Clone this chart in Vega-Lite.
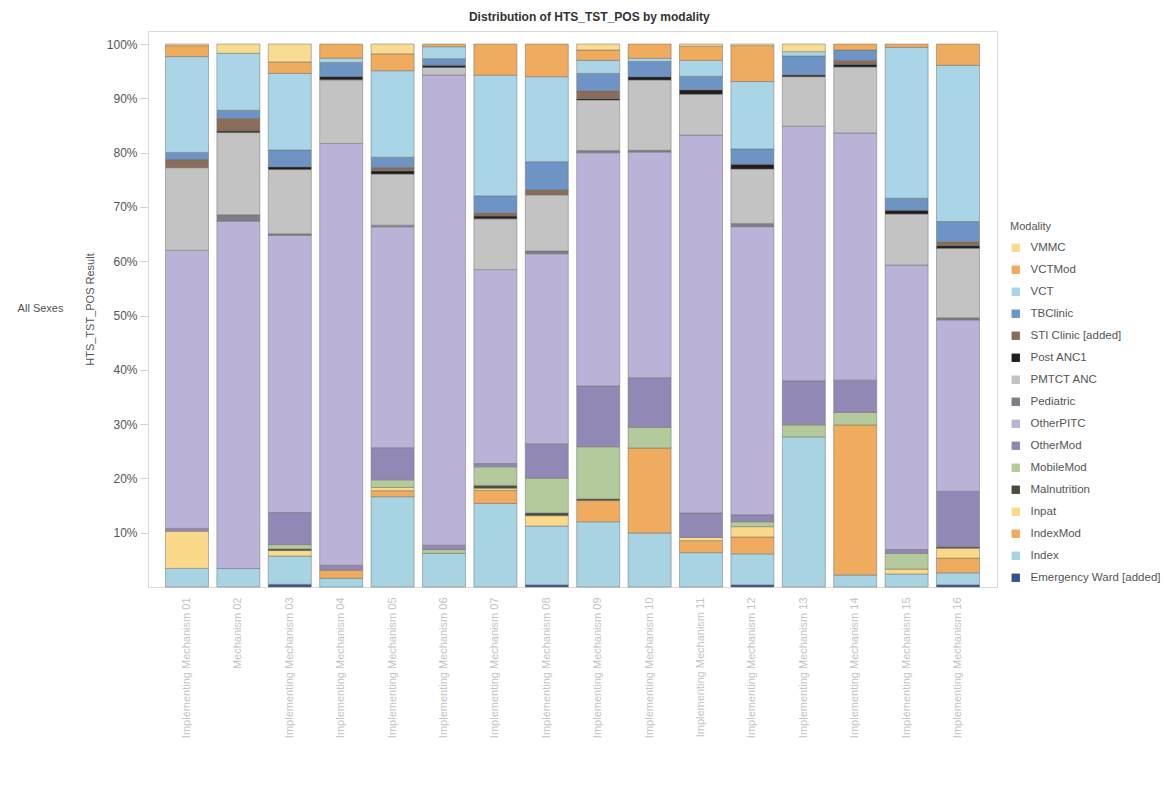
{
"$schema": "https://vega.github.io/schema/vega-lite/v6.json",
"padding": {"left": 17, "top": 10, "right": 5, "bottom": 5},
"background": "white",
"title": {"text": "Distribution of HTS_TST_POS by modality", "fontSize": 12, "fontWeight": "bold", "color": "#333333", "anchor": "middle", "frame": "bounds", "offset": 7},
"datasets": {"d": [
{"Sex":"All Sexes","Site":"Implementing Mechanism 01","Modality":"Index","Order":2,"Value":3.4},
{"Sex":"All Sexes","Site":"Implementing Mechanism 01","Modality":"Inpat","Order":4,"Value":6.8},
{"Sex":"All Sexes","Site":"Implementing Mechanism 01","Modality":"OtherMod","Order":7,"Value":0.5},
{"Sex":"All Sexes","Site":"Implementing Mechanism 01","Modality":"OtherPITC","Order":8,"Value":50.8},
{"Sex":"All Sexes","Site":"Implementing Mechanism 01","Modality":"PMTCT ANC","Order":10,"Value":15.1},
{"Sex":"All Sexes","Site":"Implementing Mechanism 01","Modality":"STI Clinic [added]","Order":12,"Value":1.5},
{"Sex":"All Sexes","Site":"Implementing Mechanism 01","Modality":"TBClinic","Order":13,"Value":1.3},
{"Sex":"All Sexes","Site":"Implementing Mechanism 01","Modality":"VCT","Order":14,"Value":17.5},
{"Sex":"All Sexes","Site":"Implementing Mechanism 01","Modality":"VCTMod","Order":15,"Value":2.0},
{"Sex":"All Sexes","Site":"Implementing Mechanism 01","Modality":"VMMC","Order":16,"Value":0.3},

{"Sex":"All Sexes","Site":"Mechanism 02","Modality":"Index","Order":2,"Value":3.4},
{"Sex":"All Sexes","Site":"Mechanism 02","Modality":"OtherPITC","Order":8,"Value":63.9},
{"Sex":"All Sexes","Site":"Mechanism 02","Modality":"Pediatric","Order":9,"Value":1.2},
{"Sex":"All Sexes","Site":"Mechanism 02","Modality":"PMTCT ANC","Order":10,"Value":15.1},
{"Sex":"All Sexes","Site":"Mechanism 02","Modality":"Post ANC1","Order":11,"Value":0.3},
{"Sex":"All Sexes","Site":"Mechanism 02","Modality":"STI Clinic [added]","Order":12,"Value":2.3},
{"Sex":"All Sexes","Site":"Mechanism 02","Modality":"TBClinic","Order":13,"Value":1.5},
{"Sex":"All Sexes","Site":"Mechanism 02","Modality":"VCT","Order":14,"Value":10.5},
{"Sex":"All Sexes","Site":"Mechanism 02","Modality":"VMMC","Order":16,"Value":1.7},

{"Sex":"All Sexes","Site":"Implementing Mechanism 03","Modality":"Emergency Ward [added]","Order":1,"Value":0.5},
{"Sex":"All Sexes","Site":"Implementing Mechanism 03","Modality":"Index","Order":2,"Value":5.2},
{"Sex":"All Sexes","Site":"Implementing Mechanism 03","Modality":"Inpat","Order":4,"Value":1.0},
{"Sex":"All Sexes","Site":"Implementing Mechanism 03","Modality":"Malnutrition","Order":5,"Value":0.3},
{"Sex":"All Sexes","Site":"Implementing Mechanism 03","Modality":"MobileMod","Order":6,"Value":0.8},
{"Sex":"All Sexes","Site":"Implementing Mechanism 03","Modality":"OtherMod","Order":7,"Value":5.9},
{"Sex":"All Sexes","Site":"Implementing Mechanism 03","Modality":"OtherPITC","Order":8,"Value":51.0},
{"Sex":"All Sexes","Site":"Implementing Mechanism 03","Modality":"Pediatric","Order":9,"Value":0.3},
{"Sex":"All Sexes","Site":"Implementing Mechanism 03","Modality":"PMTCT ANC","Order":10,"Value":11.8},
{"Sex":"All Sexes","Site":"Implementing Mechanism 03","Modality":"Post ANC1","Order":11,"Value":0.5},
{"Sex":"All Sexes","Site":"Implementing Mechanism 03","Modality":"TBClinic","Order":13,"Value":3.1},
{"Sex":"All Sexes","Site":"Implementing Mechanism 03","Modality":"VCT","Order":14,"Value":14.1},
{"Sex":"All Sexes","Site":"Implementing Mechanism 03","Modality":"VCTMod","Order":15,"Value":2.1},
{"Sex":"All Sexes","Site":"Implementing Mechanism 03","Modality":"VMMC","Order":16,"Value":3.3},

{"Sex":"All Sexes","Site":"Implementing Mechanism 04","Modality":"Index","Order":2,"Value":1.6},
{"Sex":"All Sexes","Site":"Implementing Mechanism 04","Modality":"IndexMod","Order":3,"Value":1.5},
{"Sex":"All Sexes","Site":"Implementing Mechanism 04","Modality":"OtherMod","Order":7,"Value":0.9},
{"Sex":"All Sexes","Site":"Implementing Mechanism 04","Modality":"OtherPITC","Order":8,"Value":77.7},
{"Sex":"All Sexes","Site":"Implementing Mechanism 04","Modality":"PMTCT ANC","Order":10,"Value":11.7},
{"Sex":"All Sexes","Site":"Implementing Mechanism 04","Modality":"Post ANC1","Order":11,"Value":0.6},
{"Sex":"All Sexes","Site":"Implementing Mechanism 04","Modality":"TBClinic","Order":13,"Value":2.6},
{"Sex":"All Sexes","Site":"Implementing Mechanism 04","Modality":"VCT","Order":14,"Value":0.8},
{"Sex":"All Sexes","Site":"Implementing Mechanism 04","Modality":"VCTMod","Order":15,"Value":2.6},

{"Sex":"All Sexes","Site":"Implementing Mechanism 05","Modality":"Index","Order":2,"Value":16.6},
{"Sex":"All Sexes","Site":"Implementing Mechanism 05","Modality":"IndexMod","Order":3,"Value":1.1},
{"Sex":"All Sexes","Site":"Implementing Mechanism 05","Modality":"Inpat","Order":4,"Value":0.6},
{"Sex":"All Sexes","Site":"Implementing Mechanism 05","Modality":"MobileMod","Order":6,"Value":1.4},
{"Sex":"All Sexes","Site":"Implementing Mechanism 05","Modality":"OtherMod","Order":7,"Value":5.9},
{"Sex":"All Sexes","Site":"Implementing Mechanism 05","Modality":"OtherPITC","Order":8,"Value":40.6},
{"Sex":"All Sexes","Site":"Implementing Mechanism 05","Modality":"Pediatric","Order":9,"Value":0.3},
{"Sex":"All Sexes","Site":"Implementing Mechanism 05","Modality":"PMTCT ANC","Order":10,"Value":9.4},
{"Sex":"All Sexes","Site":"Implementing Mechanism 05","Modality":"Post ANC1","Order":11,"Value":0.6},
{"Sex":"All Sexes","Site":"Implementing Mechanism 05","Modality":"STI Clinic [added]","Order":12,"Value":0.6},
{"Sex":"All Sexes","Site":"Implementing Mechanism 05","Modality":"TBClinic","Order":13,"Value":1.9},
{"Sex":"All Sexes","Site":"Implementing Mechanism 05","Modality":"VCT","Order":14,"Value":15.9},
{"Sex":"All Sexes","Site":"Implementing Mechanism 05","Modality":"VCTMod","Order":15,"Value":3.1},
{"Sex":"All Sexes","Site":"Implementing Mechanism 05","Modality":"VMMC","Order":16,"Value":1.8},

{"Sex":"All Sexes","Site":"Implementing Mechanism 06","Modality":"Index","Order":2,"Value":6.2},
{"Sex":"All Sexes","Site":"Implementing Mechanism 06","Modality":"MobileMod","Order":6,"Value":0.7},
{"Sex":"All Sexes","Site":"Implementing Mechanism 06","Modality":"OtherMod","Order":7,"Value":0.8},
{"Sex":"All Sexes","Site":"Implementing Mechanism 06","Modality":"OtherPITC","Order":8,"Value":86.6},
{"Sex":"All Sexes","Site":"Implementing Mechanism 06","Modality":"PMTCT ANC","Order":10,"Value":1.4},
{"Sex":"All Sexes","Site":"Implementing Mechanism 06","Modality":"Post ANC1","Order":11,"Value":0.4},
{"Sex":"All Sexes","Site":"Implementing Mechanism 06","Modality":"TBClinic","Order":13,"Value":1.2},
{"Sex":"All Sexes","Site":"Implementing Mechanism 06","Modality":"VCT","Order":14,"Value":2.2},
{"Sex":"All Sexes","Site":"Implementing Mechanism 06","Modality":"VCTMod","Order":15,"Value":0.5},

{"Sex":"All Sexes","Site":"Implementing Mechanism 07","Modality":"Index","Order":2,"Value":15.3},
{"Sex":"All Sexes","Site":"Implementing Mechanism 07","Modality":"IndexMod","Order":3,"Value":2.4},
{"Sex":"All Sexes","Site":"Implementing Mechanism 07","Modality":"Inpat","Order":4,"Value":0.4},
{"Sex":"All Sexes","Site":"Implementing Mechanism 07","Modality":"Malnutrition","Order":5,"Value":0.5},
{"Sex":"All Sexes","Site":"Implementing Mechanism 07","Modality":"MobileMod","Order":6,"Value":3.4},
{"Sex":"All Sexes","Site":"Implementing Mechanism 07","Modality":"OtherMod","Order":7,"Value":0.6},
{"Sex":"All Sexes","Site":"Implementing Mechanism 07","Modality":"OtherPITC","Order":8,"Value":35.5},
{"Sex":"All Sexes","Site":"Implementing Mechanism 07","Modality":"PMTCT ANC","Order":10,"Value":9.3},
{"Sex":"All Sexes","Site":"Implementing Mechanism 07","Modality":"Post ANC1","Order":11,"Value":0.5},
{"Sex":"All Sexes","Site":"Implementing Mechanism 07","Modality":"STI Clinic [added]","Order":12,"Value":0.6},
{"Sex":"All Sexes","Site":"Implementing Mechanism 07","Modality":"TBClinic","Order":13,"Value":3.1},
{"Sex":"All Sexes","Site":"Implementing Mechanism 07","Modality":"VCT","Order":14,"Value":22.1},
{"Sex":"All Sexes","Site":"Implementing Mechanism 07","Modality":"VCTMod","Order":15,"Value":5.7},

{"Sex":"All Sexes","Site":"Implementing Mechanism 08","Modality":"Emergency Ward [added]","Order":1,"Value":0.4},
{"Sex":"All Sexes","Site":"Implementing Mechanism 08","Modality":"Index","Order":2,"Value":10.8},
{"Sex":"All Sexes","Site":"Implementing Mechanism 08","Modality":"Inpat","Order":4,"Value":1.9},
{"Sex":"All Sexes","Site":"Implementing Mechanism 08","Modality":"Malnutrition","Order":5,"Value":0.5},
{"Sex":"All Sexes","Site":"Implementing Mechanism 08","Modality":"MobileMod","Order":6,"Value":6.4},
{"Sex":"All Sexes","Site":"Implementing Mechanism 08","Modality":"OtherMod","Order":7,"Value":6.3},
{"Sex":"All Sexes","Site":"Implementing Mechanism 08","Modality":"OtherPITC","Order":8,"Value":34.9},
{"Sex":"All Sexes","Site":"Implementing Mechanism 08","Modality":"Pediatric","Order":9,"Value":0.5},
{"Sex":"All Sexes","Site":"Implementing Mechanism 08","Modality":"PMTCT ANC","Order":10,"Value":10.3},
{"Sex":"All Sexes","Site":"Implementing Mechanism 08","Modality":"STI Clinic [added]","Order":12,"Value":0.9},
{"Sex":"All Sexes","Site":"Implementing Mechanism 08","Modality":"TBClinic","Order":13,"Value":5.2},
{"Sex":"All Sexes","Site":"Implementing Mechanism 08","Modality":"VCT","Order":14,"Value":15.6},
{"Sex":"All Sexes","Site":"Implementing Mechanism 08","Modality":"VCTMod","Order":15,"Value":6.0},

{"Sex":"All Sexes","Site":"Implementing Mechanism 09","Modality":"Index","Order":2,"Value":12.0},
{"Sex":"All Sexes","Site":"Implementing Mechanism 09","Modality":"IndexMod","Order":3,"Value":3.9},
{"Sex":"All Sexes","Site":"Implementing Mechanism 09","Modality":"Malnutrition","Order":5,"Value":0.3},
{"Sex":"All Sexes","Site":"Implementing Mechanism 09","Modality":"MobileMod","Order":6,"Value":9.6},
{"Sex":"All Sexes","Site":"Implementing Mechanism 09","Modality":"OtherMod","Order":7,"Value":11.2},
{"Sex":"All Sexes","Site":"Implementing Mechanism 09","Modality":"OtherPITC","Order":8,"Value":42.9},
{"Sex":"All Sexes","Site":"Implementing Mechanism 09","Modality":"Pediatric","Order":9,"Value":0.4},
{"Sex":"All Sexes","Site":"Implementing Mechanism 09","Modality":"PMTCT ANC","Order":10,"Value":9.3},
{"Sex":"All Sexes","Site":"Implementing Mechanism 09","Modality":"Post ANC1","Order":11,"Value":0.3},
{"Sex":"All Sexes","Site":"Implementing Mechanism 09","Modality":"STI Clinic [added]","Order":12,"Value":1.4},
{"Sex":"All Sexes","Site":"Implementing Mechanism 09","Modality":"TBClinic","Order":13,"Value":3.2},
{"Sex":"All Sexes","Site":"Implementing Mechanism 09","Modality":"VCT","Order":14,"Value":2.4},
{"Sex":"All Sexes","Site":"Implementing Mechanism 09","Modality":"VCTMod","Order":15,"Value":1.9},
{"Sex":"All Sexes","Site":"Implementing Mechanism 09","Modality":"VMMC","Order":16,"Value":1.1},

{"Sex":"All Sexes","Site":"Implementing Mechanism 10","Modality":"Index","Order":2,"Value":9.9},
{"Sex":"All Sexes","Site":"Implementing Mechanism 10","Modality":"IndexMod","Order":3,"Value":15.6},
{"Sex":"All Sexes","Site":"Implementing Mechanism 10","Modality":"MobileMod","Order":6,"Value":3.8},
{"Sex":"All Sexes","Site":"Implementing Mechanism 10","Modality":"OtherMod","Order":7,"Value":9.1},
{"Sex":"All Sexes","Site":"Implementing Mechanism 10","Modality":"OtherPITC","Order":8,"Value":41.4},
{"Sex":"All Sexes","Site":"Implementing Mechanism 10","Modality":"Pediatric","Order":9,"Value":0.3},
{"Sex":"All Sexes","Site":"Implementing Mechanism 10","Modality":"PMTCT ANC","Order":10,"Value":12.9},
{"Sex":"All Sexes","Site":"Implementing Mechanism 10","Modality":"Post ANC1","Order":11,"Value":0.6},
{"Sex":"All Sexes","Site":"Implementing Mechanism 10","Modality":"TBClinic","Order":13,"Value":2.8},
{"Sex":"All Sexes","Site":"Implementing Mechanism 10","Modality":"VCT","Order":14,"Value":0.6},
{"Sex":"All Sexes","Site":"Implementing Mechanism 10","Modality":"VCTMod","Order":15,"Value":2.6},

{"Sex":"All Sexes","Site":"Implementing Mechanism 11","Modality":"Index","Order":2,"Value":6.3},
{"Sex":"All Sexes","Site":"Implementing Mechanism 11","Modality":"IndexMod","Order":3,"Value":2.2},
{"Sex":"All Sexes","Site":"Implementing Mechanism 11","Modality":"Inpat","Order":4,"Value":0.6},
{"Sex":"All Sexes","Site":"Implementing Mechanism 11","Modality":"OtherMod","Order":7,"Value":4.5},
{"Sex":"All Sexes","Site":"Implementing Mechanism 11","Modality":"OtherPITC","Order":8,"Value":69.3},
{"Sex":"All Sexes","Site":"Implementing Mechanism 11","Modality":"PMTCT ANC","Order":10,"Value":7.5},
{"Sex":"All Sexes","Site":"Implementing Mechanism 11","Modality":"Post ANC1","Order":11,"Value":0.8},
{"Sex":"All Sexes","Site":"Implementing Mechanism 11","Modality":"TBClinic","Order":13,"Value":2.5},
{"Sex":"All Sexes","Site":"Implementing Mechanism 11","Modality":"VCT","Order":14,"Value":2.9},
{"Sex":"All Sexes","Site":"Implementing Mechanism 11","Modality":"VCTMod","Order":15,"Value":2.6},
{"Sex":"All Sexes","Site":"Implementing Mechanism 11","Modality":"VMMC","Order":16,"Value":0.4},

{"Sex":"All Sexes","Site":"Implementing Mechanism 12","Modality":"Emergency Ward [added]","Order":1,"Value":0.4},
{"Sex":"All Sexes","Site":"Implementing Mechanism 12","Modality":"Index","Order":2,"Value":5.7},
{"Sex":"All Sexes","Site":"Implementing Mechanism 12","Modality":"IndexMod","Order":3,"Value":3.1},
{"Sex":"All Sexes","Site":"Implementing Mechanism 12","Modality":"Inpat","Order":4,"Value":1.9},
{"Sex":"All Sexes","Site":"Implementing Mechanism 12","Modality":"MobileMod","Order":6,"Value":0.9},
{"Sex":"All Sexes","Site":"Implementing Mechanism 12","Modality":"OtherMod","Order":7,"Value":1.3},
{"Sex":"All Sexes","Site":"Implementing Mechanism 12","Modality":"OtherPITC","Order":8,"Value":53.0},
{"Sex":"All Sexes","Site":"Implementing Mechanism 12","Modality":"Pediatric","Order":9,"Value":0.6},
{"Sex":"All Sexes","Site":"Implementing Mechanism 12","Modality":"PMTCT ANC","Order":10,"Value":10.0},
{"Sex":"All Sexes","Site":"Implementing Mechanism 12","Modality":"Post ANC1","Order":11,"Value":0.9},
{"Sex":"All Sexes","Site":"Implementing Mechanism 12","Modality":"TBClinic","Order":13,"Value":2.8},
{"Sex":"All Sexes","Site":"Implementing Mechanism 12","Modality":"VCT","Order":14,"Value":12.4},
{"Sex":"All Sexes","Site":"Implementing Mechanism 12","Modality":"VCTMod","Order":15,"Value":6.6},
{"Sex":"All Sexes","Site":"Implementing Mechanism 12","Modality":"VMMC","Order":16,"Value":0.3},

{"Sex":"All Sexes","Site":"Implementing Mechanism 13","Modality":"Index","Order":2,"Value":27.6},
{"Sex":"All Sexes","Site":"Implementing Mechanism 13","Modality":"MobileMod","Order":6,"Value":2.2},
{"Sex":"All Sexes","Site":"Implementing Mechanism 13","Modality":"OtherMod","Order":7,"Value":8.1},
{"Sex":"All Sexes","Site":"Implementing Mechanism 13","Modality":"OtherPITC","Order":8,"Value":46.8},
{"Sex":"All Sexes","Site":"Implementing Mechanism 13","Modality":"PMTCT ANC","Order":10,"Value":9.1},
{"Sex":"All Sexes","Site":"Implementing Mechanism 13","Modality":"Post ANC1","Order":11,"Value":0.3},
{"Sex":"All Sexes","Site":"Implementing Mechanism 13","Modality":"TBClinic","Order":13,"Value":3.5},
{"Sex":"All Sexes","Site":"Implementing Mechanism 13","Modality":"VCT","Order":14,"Value":0.8},
{"Sex":"All Sexes","Site":"Implementing Mechanism 13","Modality":"VMMC","Order":16,"Value":1.4},

{"Sex":"All Sexes","Site":"Implementing Mechanism 14","Modality":"Index","Order":2,"Value":2.2},
{"Sex":"All Sexes","Site":"Implementing Mechanism 14","Modality":"IndexMod","Order":3,"Value":27.5},
{"Sex":"All Sexes","Site":"Implementing Mechanism 14","Modality":"MobileMod","Order":6,"Value":2.3},
{"Sex":"All Sexes","Site":"Implementing Mechanism 14","Modality":"OtherMod","Order":7,"Value":5.9},
{"Sex":"All Sexes","Site":"Implementing Mechanism 14","Modality":"OtherPITC","Order":8,"Value":45.3},
{"Sex":"All Sexes","Site":"Implementing Mechanism 14","Modality":"PMTCT ANC","Order":10,"Value":12.1},
{"Sex":"All Sexes","Site":"Implementing Mechanism 14","Modality":"Post ANC1","Order":11,"Value":0.5},
{"Sex":"All Sexes","Site":"Implementing Mechanism 14","Modality":"STI Clinic [added]","Order":12,"Value":0.7},
{"Sex":"All Sexes","Site":"Implementing Mechanism 14","Modality":"TBClinic","Order":13,"Value":1.9},
{"Sex":"All Sexes","Site":"Implementing Mechanism 14","Modality":"VCTMod","Order":15,"Value":1.1},

{"Sex":"All Sexes","Site":"Implementing Mechanism 15","Modality":"Index","Order":2,"Value":2.4},
{"Sex":"All Sexes","Site":"Implementing Mechanism 15","Modality":"Inpat","Order":4,"Value":0.9},
{"Sex":"All Sexes","Site":"Implementing Mechanism 15","Modality":"MobileMod","Order":6,"Value":2.9},
{"Sex":"All Sexes","Site":"Implementing Mechanism 15","Modality":"OtherMod","Order":7,"Value":0.7},
{"Sex":"All Sexes","Site":"Implementing Mechanism 15","Modality":"OtherPITC","Order":8,"Value":52.4},
{"Sex":"All Sexes","Site":"Implementing Mechanism 15","Modality":"PMTCT ANC","Order":10,"Value":9.4},
{"Sex":"All Sexes","Site":"Implementing Mechanism 15","Modality":"Post ANC1","Order":11,"Value":0.7},
{"Sex":"All Sexes","Site":"Implementing Mechanism 15","Modality":"TBClinic","Order":13,"Value":2.2},
{"Sex":"All Sexes","Site":"Implementing Mechanism 15","Modality":"VCT","Order":14,"Value":27.8},
{"Sex":"All Sexes","Site":"Implementing Mechanism 15","Modality":"VCTMod","Order":15,"Value":0.6},

{"Sex":"All Sexes","Site":"Implementing Mechanism 16","Modality":"Emergency Ward [added]","Order":1,"Value":0.4},
{"Sex":"All Sexes","Site":"Implementing Mechanism 16","Modality":"Index","Order":2,"Value":2.2},
{"Sex":"All Sexes","Site":"Implementing Mechanism 16","Modality":"IndexMod","Order":3,"Value":2.7},
{"Sex":"All Sexes","Site":"Implementing Mechanism 16","Modality":"Inpat","Order":4,"Value":1.8},
{"Sex":"All Sexes","Site":"Implementing Mechanism 16","Modality":"Malnutrition","Order":5,"Value":0.2},
{"Sex":"All Sexes","Site":"Implementing Mechanism 16","Modality":"OtherMod","Order":7,"Value":10.2},
{"Sex":"All Sexes","Site":"Implementing Mechanism 16","Modality":"OtherPITC","Order":8,"Value":31.4},
{"Sex":"All Sexes","Site":"Implementing Mechanism 16","Modality":"Pediatric","Order":9,"Value":0.4},
{"Sex":"All Sexes","Site":"Implementing Mechanism 16","Modality":"PMTCT ANC","Order":10,"Value":12.7},
{"Sex":"All Sexes","Site":"Implementing Mechanism 16","Modality":"Post ANC1","Order":11,"Value":0.5},
{"Sex":"All Sexes","Site":"Implementing Mechanism 16","Modality":"STI Clinic [added]","Order":12,"Value":0.7},
{"Sex":"All Sexes","Site":"Implementing Mechanism 16","Modality":"TBClinic","Order":13,"Value":3.7},
{"Sex":"All Sexes","Site":"Implementing Mechanism 16","Modality":"VCT","Order":14,"Value":28.6},
{"Sex":"All Sexes","Site":"Implementing Mechanism 16","Modality":"VCTMod","Order":15,"Value":3.9}
]},
"data": {"name": "d"},
"facet": {"row": {"field": "Sex", "type": "nominal", "header": {"title": null, "labelAngle": 0, "labelOrient": "left", "labelFontSize": 11, "labelColor": "#555555", "labelPadding": -25, "labelFont": "Liberation Sans"}}},
"spec": {
  "width": 849,
  "height": 556,
  "mark": {"type": "bar", "stroke": "#6b6b6b", "strokeWidth": 0.6, "strokeOpacity": 0.8},
  "encoding": {
    "x": {"field": "Site", "type": "nominal", "sort": null,
      "scale": {"paddingInner": 0.163, "paddingOuter": 0.34},
      "axis": {"title": null, "labelAngle": -90, "labelColor": "#c4c4c4", "labelFontSize": 11, "ticks": false, "domain": false, "labelPadding": 9}},
    "y": {"field": "Value", "type": "quantitative", "stack": "normalize",
      "scale": {"domain": [0, 1.024], "nice": false, "zero": true},
      "axis": {"title": "HTS_TST_POS Result", "values": [0.1,0.2,0.3,0.4,0.5,0.6,0.7,0.8,0.9,1.0], "format": ".0%", "grid": false, "domain": false, "tickColor": "#d0d0d0", "tickSize": 7, "labelColor": "#555555", "labelFontSize": 12, "titleFontSize": 11, "titleFontWeight": "normal", "titleColor": "#555555", "labelPadding": 3, "titlePadding": 11}},
    "color": {"field": "Modality", "type": "nominal",
      "scale": {"domain": ["VMMC","VCTMod","VCT","TBClinic","STI Clinic [added]","Post ANC1","PMTCT ANC","Pediatric","OtherPITC","OtherMod","MobileMod","Malnutrition","Inpat","IndexMod","Index","Emergency Ward [added]"],
        "range": ["#f9dc93","#efab5e","#a9d5e6","#6d94c4","#8a6c5a","#1e1e1e","#c3c3c3","#7e7e88","#bbb2d8","#9188b5","#b5ca9c","#4b4b3c","#fbd98b","#efac5e","#a7d3e3","#34548a"]},
      "legend": {"orient": "none", "legendX": 862, "legendY": 190, "title": "Modality", "titleFontSize": 11, "titleFontWeight": "normal", "titleColor": "#555555", "labelFontSize": 11.5, "labelColor": "#555555", "symbolType": "square", "symbolSize": 70, "symbolStrokeWidth": 0, "rowPadding": 9, "titlePadding": 10, "labelOffset": 9}},
    "order": {"field": "Order", "type": "quantitative", "sort": "ascending"}
  }
},
"config": {
  "font": "Liberation Sans",
  "view": {"stroke": "#d9d9d9"},
  "facet": {"spacing": 0}
}
}
